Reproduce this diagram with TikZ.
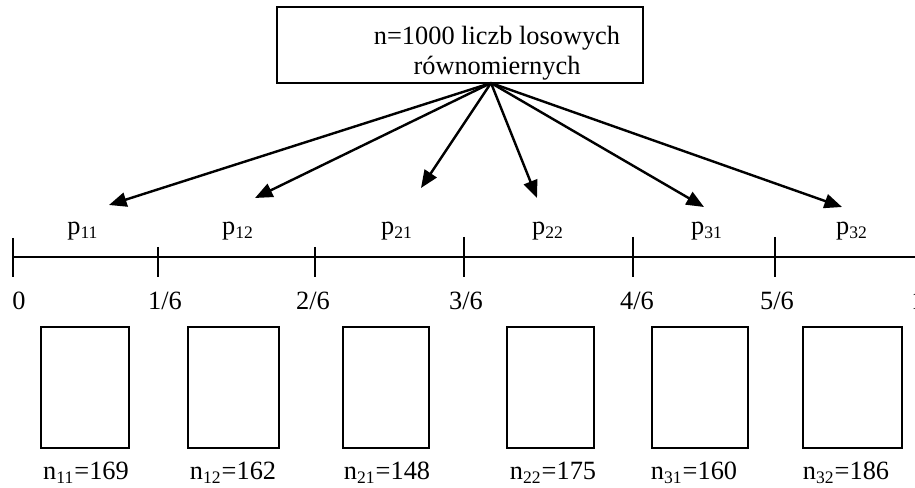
\documentclass[tikz,border=0pt]{standalone}
\usepackage{fontspec}
\setmainfont{Liberation Serif}
\usetikzlibrary{arrows.meta}

\begin{document}
\begin{tikzpicture}[x=0.016cm,y=-0.016cm,>={Triangle[length=8pt,width=6.5pt]},
                    font=\fontsize{12}{13.6}\selectfont]

  \tikzstyle{box}=[draw,rectangle,line width=0.8pt,inner sep=0pt]
  \tikzstyle{arr}=[->,line width=1.1pt]
  \tikzstyle{lbl}=[anchor=base,inner sep=0pt]

  \useasboundingbox (0,0) rectangle (915,488);

  % source box
  \node[box,minimum width=5.856cm,minimum height=1.216cm] (src) at (460,45) {};
  \node[inner sep=0pt,align=center] (srctxt) at (497,53)
       {n=1000 liczb losowych\\równomiernych};
  \coordinate (fork) at (491,83);

  % arrows to the intervals
  \foreach \n/\x/\y in {11/109/205,12/255/198,21/421/188,22/537/198,31/704/207,32/842/207}{
    \coordinate (a\n) at (\x,\y);
    \draw[arr] (fork) -- (a\n);
  }

  % axis
  \coordinate (ax0) at (13,257);
  \coordinate (ax1) at (915,257);
  \draw[line width=1pt] (ax0) -- (ax1);
  \foreach \x/\t in {13/238,158/247,315/247,464/237,633/237,775/237}
    \draw[line width=1pt] (\x,\t) -- (\x,277);

  \foreach \i/\x/\l in {0/19/{0},1/165/{1/6},2/313/{2/6},3/466/{3/6},4/637/{4/6},5/777/{5/6},6/918/{1}}
    \node[lbl] (t\i) at (\x,310) {\l};

  \foreach \n/\x in {11/83,12/238,21/397,22/548,31/707,32/852}
    \node[lbl] (p\n) at (\x,235) {p\textsubscript{\n}};

  % counting cells
  \foreach \n/\x/\w in {11/85/1.408,12/233.5/1.456,21/386/1.376,22/550.5/1.392,31/700/1.536,32/852.5/1.584}
    \node[box,minimum width=\w cm,minimum height=1.936cm] (c\n) at (\x,387.5) {};

  \foreach \n/\x/\v in {11/86/169,12/233/162,21/387/148,22/553/175,31/694/160,32/846/186}
    \node[lbl] (n\n) at (\x,480) {n\textsubscript{\n}=\v};
\end{tikzpicture}
\end{document}
